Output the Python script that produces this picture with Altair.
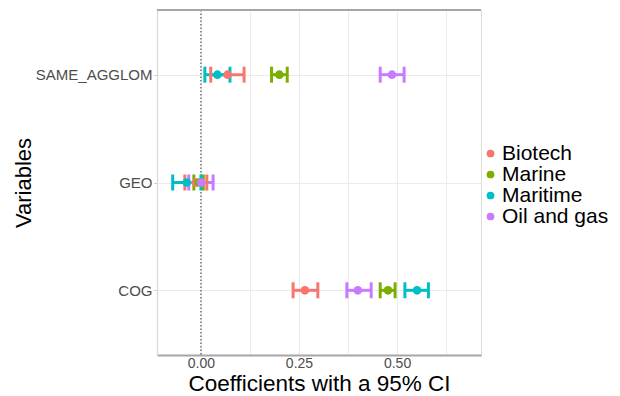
import altair as alt
import pandas as pd

variables = ["SAME_AGGLOM", "GEO", "COG"]
groups = ["Biotech", "Marine", "Maritime", "Oil and gas"]
colors = ["#F8766D", "#7CAE00", "#00BFC4", "#C77CFF"]

# estimates per group, in order SAME_AGGLOM, GEO, COG
biotech_est = [0.068, -0.013, 0.265]
biotech_lo = [0.025, -0.041, 0.235]
biotech_hi = [0.110, 0.015, 0.298]

marine_est = [0.200, -0.006, 0.477]
marine_lo = [0.180, -0.018, 0.457]
marine_hi = [0.220, 0.006, 0.495]

maritime_est = [0.042, -0.036, 0.551]
maritime_lo = [0.010, -0.072, 0.520]
maritime_hi = [0.074, 0.000, 0.580]

oil_est = [0.487, 0.000, 0.400]
oil_lo = [0.457, -0.031, 0.372]
oil_hi = [0.518, 0.031, 0.434]

x_ticks = [0.0, 0.125, 0.25, 0.375, 0.5, 0.625]

rows = []
for g, est, lo, hi in [
    ("Biotech", biotech_est, biotech_lo, biotech_hi),
    ("Marine", marine_est, marine_lo, marine_hi),
    ("Maritime", maritime_est, maritime_lo, maritime_hi),
    ("Oil and gas", oil_est, oil_lo, oil_hi),
]:
    for v, e, l, h in zip(variables, est, lo, hi):
        rows.append({"Variable": v, "Group": g, "est": e, "lo": l, "hi": h})
df = pd.DataFrame(rows)

FONT = "Liberation Sans"
W, H = 324, 345

xscale = alt.Scale(domain=[-0.112, 0.714], nice=False, zero=False)
yscale = alt.Scale(domain=variables, type="point", padding=0.6)
cscale = alt.Scale(domain=groups, range=colors)

legend = alt.Legend(
    title=None, orient="none", legendX=323, legendY=133,
    labelFontSize=21, labelFont=FONT, labelColor="#000000",
    symbolType="circle", symbolSize=60, symbolStrokeWidth=0, symbolOpacity=1,
    rowPadding=-4, labelOffset=1, padding=0,
)
color = alt.Color("Group:N", scale=cscale, legend=legend)

xaxis = alt.Axis(
    values=x_ticks,
    labelExpr="(round(datum.value*8) % 2 == 0) ? format(datum.value, '.2f') : ''",
    title="Coefficients with a 95% CI",
    titleFontSize=22.5, titleFontWeight="normal", titleColor="#000000", titleFont=FONT,
    titleX=W / 2, titleY=35, titleBaseline="alphabetic", titleAlign="center",
    labelFontSize=14, labelColor="#4D4D4D", labelFont=FONT, labelPadding=1,
    ticks=False, tickSize=0,
    grid=True, gridColor="#EBEBEB", gridWidth=1,
    domain=True, domainColor="#A6A6A6", domainWidth=2,
)
yaxis = alt.Axis(
    title="Variables",
    titleFontSize=22, titleFontWeight="normal", titleColor="#000000", titleFont=FONT,
    titleAngle=-90, titleX=-127, titleY=H / 2, titleAlign="center", titleBaseline="alphabetic",
    labelFontSize=15, labelColor="#4D4D4D", labelFont=FONT, labelPadding=2,
    ticks=True, tickSize=3, tickColor="#C8C8C8",
    grid=True, gridColor="#EBEBEB", gridWidth=1,
    domain=True, domainColor="#DDDDDD", domainWidth=1.5,
)

base = alt.Chart(df)

bars = base.mark_rule(strokeWidth=3).encode(
    x=alt.X("lo:Q", scale=xscale, axis=xaxis),
    x2="hi:Q",
    y=alt.Y("Variable:N", scale=yscale, axis=yaxis, sort=variables),
    color=color,
)
cap_lo = base.mark_tick(thickness=3, size=16, orient="vertical", opacity=1).encode(
    x=alt.X("lo:Q", scale=xscale),
    y=alt.Y("Variable:N", scale=yscale, sort=variables),
    color=color,
)
cap_hi = base.mark_tick(thickness=3, size=16, orient="vertical", opacity=1).encode(
    x=alt.X("hi:Q", scale=xscale),
    y=alt.Y("Variable:N", scale=yscale, sort=variables),
    color=color,
)
points = base.mark_point(filled=True, opacity=1, size=75, shape="circle").encode(
    x=alt.X("est:Q", scale=xscale),
    y=alt.Y("Variable:N", scale=yscale, sort=variables),
    color=color,
)

zero_df = pd.DataFrame({"x": [0.0]})
zero_line = alt.Chart(zero_df).mark_rule(
    color="#333333", strokeDash=[1.5, 2], strokeWidth=1
).encode(x=alt.X("x:Q", scale=xscale))

top_line = alt.Chart(zero_df).mark_rule(color="#A6A6A6", strokeWidth=2).encode(
    x=alt.value(0), x2=alt.value(W), y=alt.value(0)
)

chart = alt.layer(zero_line, bars, cap_lo, cap_hi, points, top_line).properties(
    width=W, height=H,
    autosize=alt.AutoSizeParams(type="none"),
    padding={"left": 149, "top": 2, "right": 131, "bottom": 40},
).configure_view(stroke=None).configure(background="white")

chart.save("out.html", embed_options={"renderer": "svg", "actions": False})
